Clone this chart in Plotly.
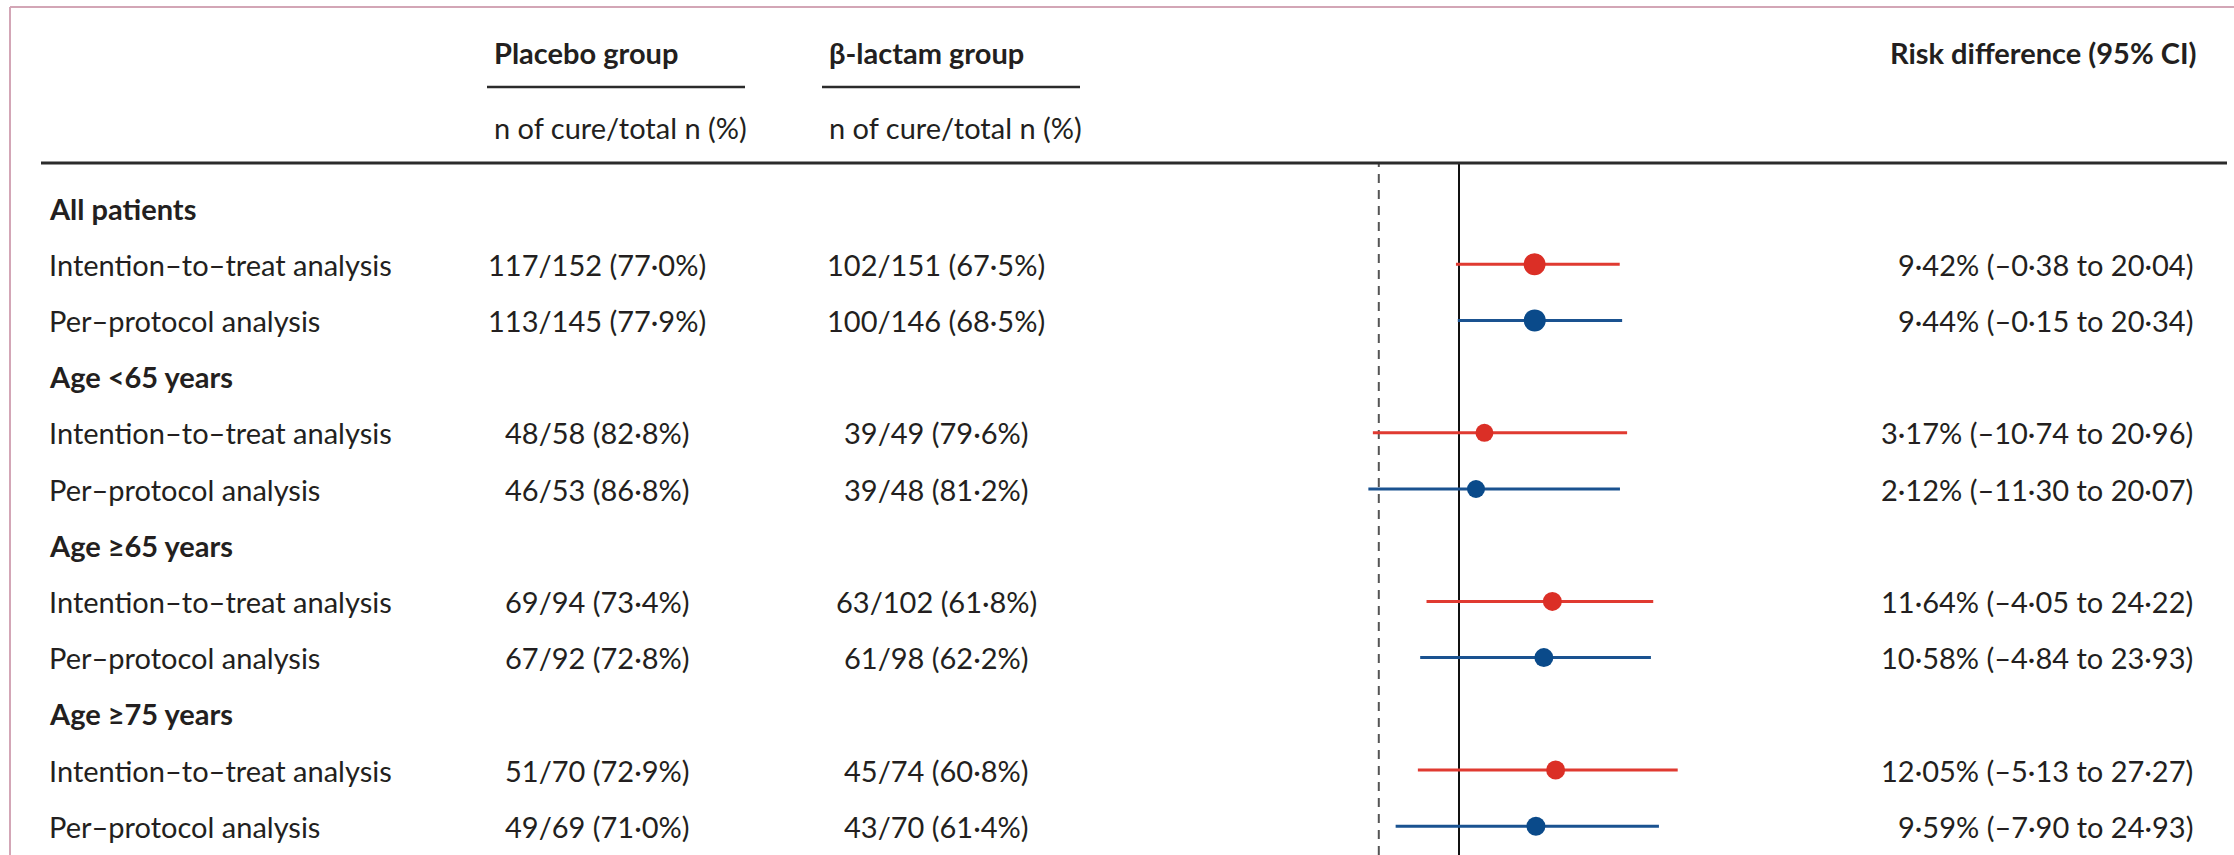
import plotly.graph_objects as go

# ---------------- data ----------------
group_labels = ["All patients", "Age <65 years", "Age ≥65 years", "Age ≥75 years"]
analysis_labels = ["Intention–to–treat analysis", "Per–protocol analysis"]

placebo_cure = [117, 113, 48, 46, 69, 67, 51, 49]
placebo_total = [152, 145, 58, 53, 94, 92, 70, 69]
beta_cure = [102, 100, 39, 39, 63, 61, 45, 43]
beta_total = [151, 146, 49, 48, 102, 98, 74, 70]
placebo_pct = ["77·0", "77·9", "82·8", "86·8", "73·4", "72·8", "72·9", "71·0"]
beta_pct = ["67·5", "68·5", "79·6", "81·2", "61·8", "62·2", "60·8", "61·4"]

risk_diff = [9.42, 9.44, 3.17, 2.12, 11.64, 10.58, 12.05, 9.59]
ci_low = [-0.38, -0.15, -10.74, -11.30, -4.05, -4.84, -5.13, -7.90]
ci_high = [20.04, 20.34, 20.96, 20.07, 24.22, 23.93, 27.27, 24.93]
dot_size = [22, 22, 18, 18, 19, 19, 19, 19]
margin_line = -10

# ---------------- layout constants ----------------
W, H = 2234, 855
ROW0, ROWSTEP = 208.0, 56.2      # px of first row, row spacing
ZERO_PX, PX_PER_UNIT = 1459.0, 8.02
TXT = "#231f20"
FONT = "Lato"
FS = 29

RED_LINE, RED_DOT = "#e03a31", "#db2f26"
BLUE_LINE, BLUE_DOT = "#1a5290", "#0a4a8a"


def fmt(v):
    s = f"{abs(v):.2f}".replace(".", "·")
    return ("–" if v < 0 else "") + s


def px(p):
    return p / W


def py(p):
    return 1 - p / H


fig = go.Figure()

rows = []  # (row_index, label, is_header, data_index)
r = 0
k = 0
for g in group_labels:
    rows.append((r, g, True, None))
    r += 1
    for a in analysis_labels:
        rows.append((r, a, False, k))
        r += 1
        k += 1

font = dict(family=FONT, size=FS, color=TXT)
annotations = []
for ri, label, is_head, di in rows:
    annotations.append(dict(
        x=px(47), y=ri, xref="paper", yref="y", xanchor="left", yanchor="middle",
        text=f"<b>{label}</b>" if is_head else label, showarrow=False, font=font))
    if di is None:
        continue
    annotations.append(dict(
        x=px(597), y=ri, xref="paper", yref="y", xanchor="center", yanchor="middle",
        text=f"{placebo_cure[di]}/{placebo_total[di]} ({placebo_pct[di]}%)", showarrow=False,
        font=font))
    annotations.append(dict(
        x=px(936), y=ri, xref="paper", yref="y", xanchor="center", yanchor="middle",
        text=f"{beta_cure[di]}/{beta_total[di]} ({beta_pct[di]}%)", showarrow=False,
        font=font))
    annotations.append(dict(
        x=px(2195), y=ri, xref="paper", yref="y", xanchor="right", yanchor="middle",
        text=f"{fmt(risk_diff[di])}% ({fmt(ci_low[di])} to {fmt(ci_high[di])})", showarrow=False,
        font=font))

# headers
for xl, t in [(492, "<b>Placebo group</b>"), (827, "<b>β-lactam group</b>")]:
    annotations.append(dict(x=px(xl), y=py(52), xref="paper", yref="paper",
                            xanchor="left", yanchor="middle", text=t, showarrow=False,
                            font=font))
    annotations.append(dict(x=px(xl), y=py(128), xref="paper", yref="paper",
                            xanchor="left", yanchor="middle", text="n of cure/total n (%)",
                            showarrow=False, font=font))
annotations.append(dict(x=px(2198), y=py(52), xref="paper", yref="paper",
                        xanchor="right", yanchor="middle", text="<b>Risk difference (95% CI)</b>",
                        showarrow=False, font=font))

# forest plot traces
data_rows = [ri for ri, _, h, _ in rows if not h]
for color_line, color_dot, sel in [(RED_LINE, RED_DOT, 0), (BLUE_LINE, BLUE_DOT, 1)]:
    xs, ys = [], []
    mx, my, ms = [], [], []
    for i, ri in enumerate(data_rows):
        if i % 2 != sel:
            continue
        xs += [ci_low[i], ci_high[i], None]
        ys += [ri, ri, None]
        mx.append(risk_diff[i])
        my.append(ri)
        ms.append(dot_size[i])
    fig.add_trace(go.Scatter(x=xs, y=ys, mode="lines",
                             line=dict(color=color_line, width=3), hoverinfo="skip",
                             showlegend=False))
    fig.add_trace(go.Scatter(x=mx, y=my, mode="markers",
                             marker=dict(color=color_dot, size=ms, opacity=1, line=dict(width=0)),
                             showlegend=False))

shapes = [
    # outer border (top & left)
    dict(type="line", xref="paper", yref="paper", x0=px(10), x1=1, y0=py(7), y1=py(7),
         line=dict(color="#d3a6b6", width=2)),
    dict(type="line", xref="paper", yref="paper", x0=px(10), x1=px(10), y0=py(7), y1=0,
         line=dict(color="#d3a6b6", width=2)),
    # header underlines
    dict(type="line", xref="paper", yref="paper", x0=px(487), x1=px(745), y0=py(87), y1=py(87),
         line=dict(color="#2b2b2b", width=2.5)),
    dict(type="line", xref="paper", yref="paper", x0=px(822), x1=px(1080), y0=py(87), y1=py(87),
         line=dict(color="#2b2b2b", width=2.5)),
    # thick rule
    dict(type="line", xref="paper", yref="paper", x0=px(41), x1=px(2227), y0=py(163), y1=py(163),
         line=dict(color="#2b2b2b", width=3)),
    # reference lines
    dict(type="line", xref="x", yref="paper", x0=margin_line, x1=margin_line, y0=0, y1=py(163),
         line=dict(color="#555555", width=2, dash="9px,7px"), layer="below"),
    dict(type="line", xref="x", yref="paper", x0=0, x1=0, y0=0, y1=py(163),
         line=dict(color="#111111", width=2), layer="below"),
]

fig.update_layout(
    width=W, height=H,
    margin=dict(l=0, r=0, t=0, b=0),
    paper_bgcolor="white", plot_bgcolor="white",
    xaxis=dict(domain=[0, 1], range=[-ZERO_PX / PX_PER_UNIT, (W - ZERO_PX) / PX_PER_UNIT],
               visible=False, fixedrange=True),
    yaxis=dict(domain=[0, 1], range=[(H - ROW0) / ROWSTEP, -ROW0 / ROWSTEP],
               visible=False, fixedrange=True),
    annotations=annotations,
    shapes=shapes,
    showlegend=False,
)

fig.write_html("out.html",
               config={"displayModeBar": False},
               post_script="document.body.style.margin='0';document.body.style.overflow='hidden';")
